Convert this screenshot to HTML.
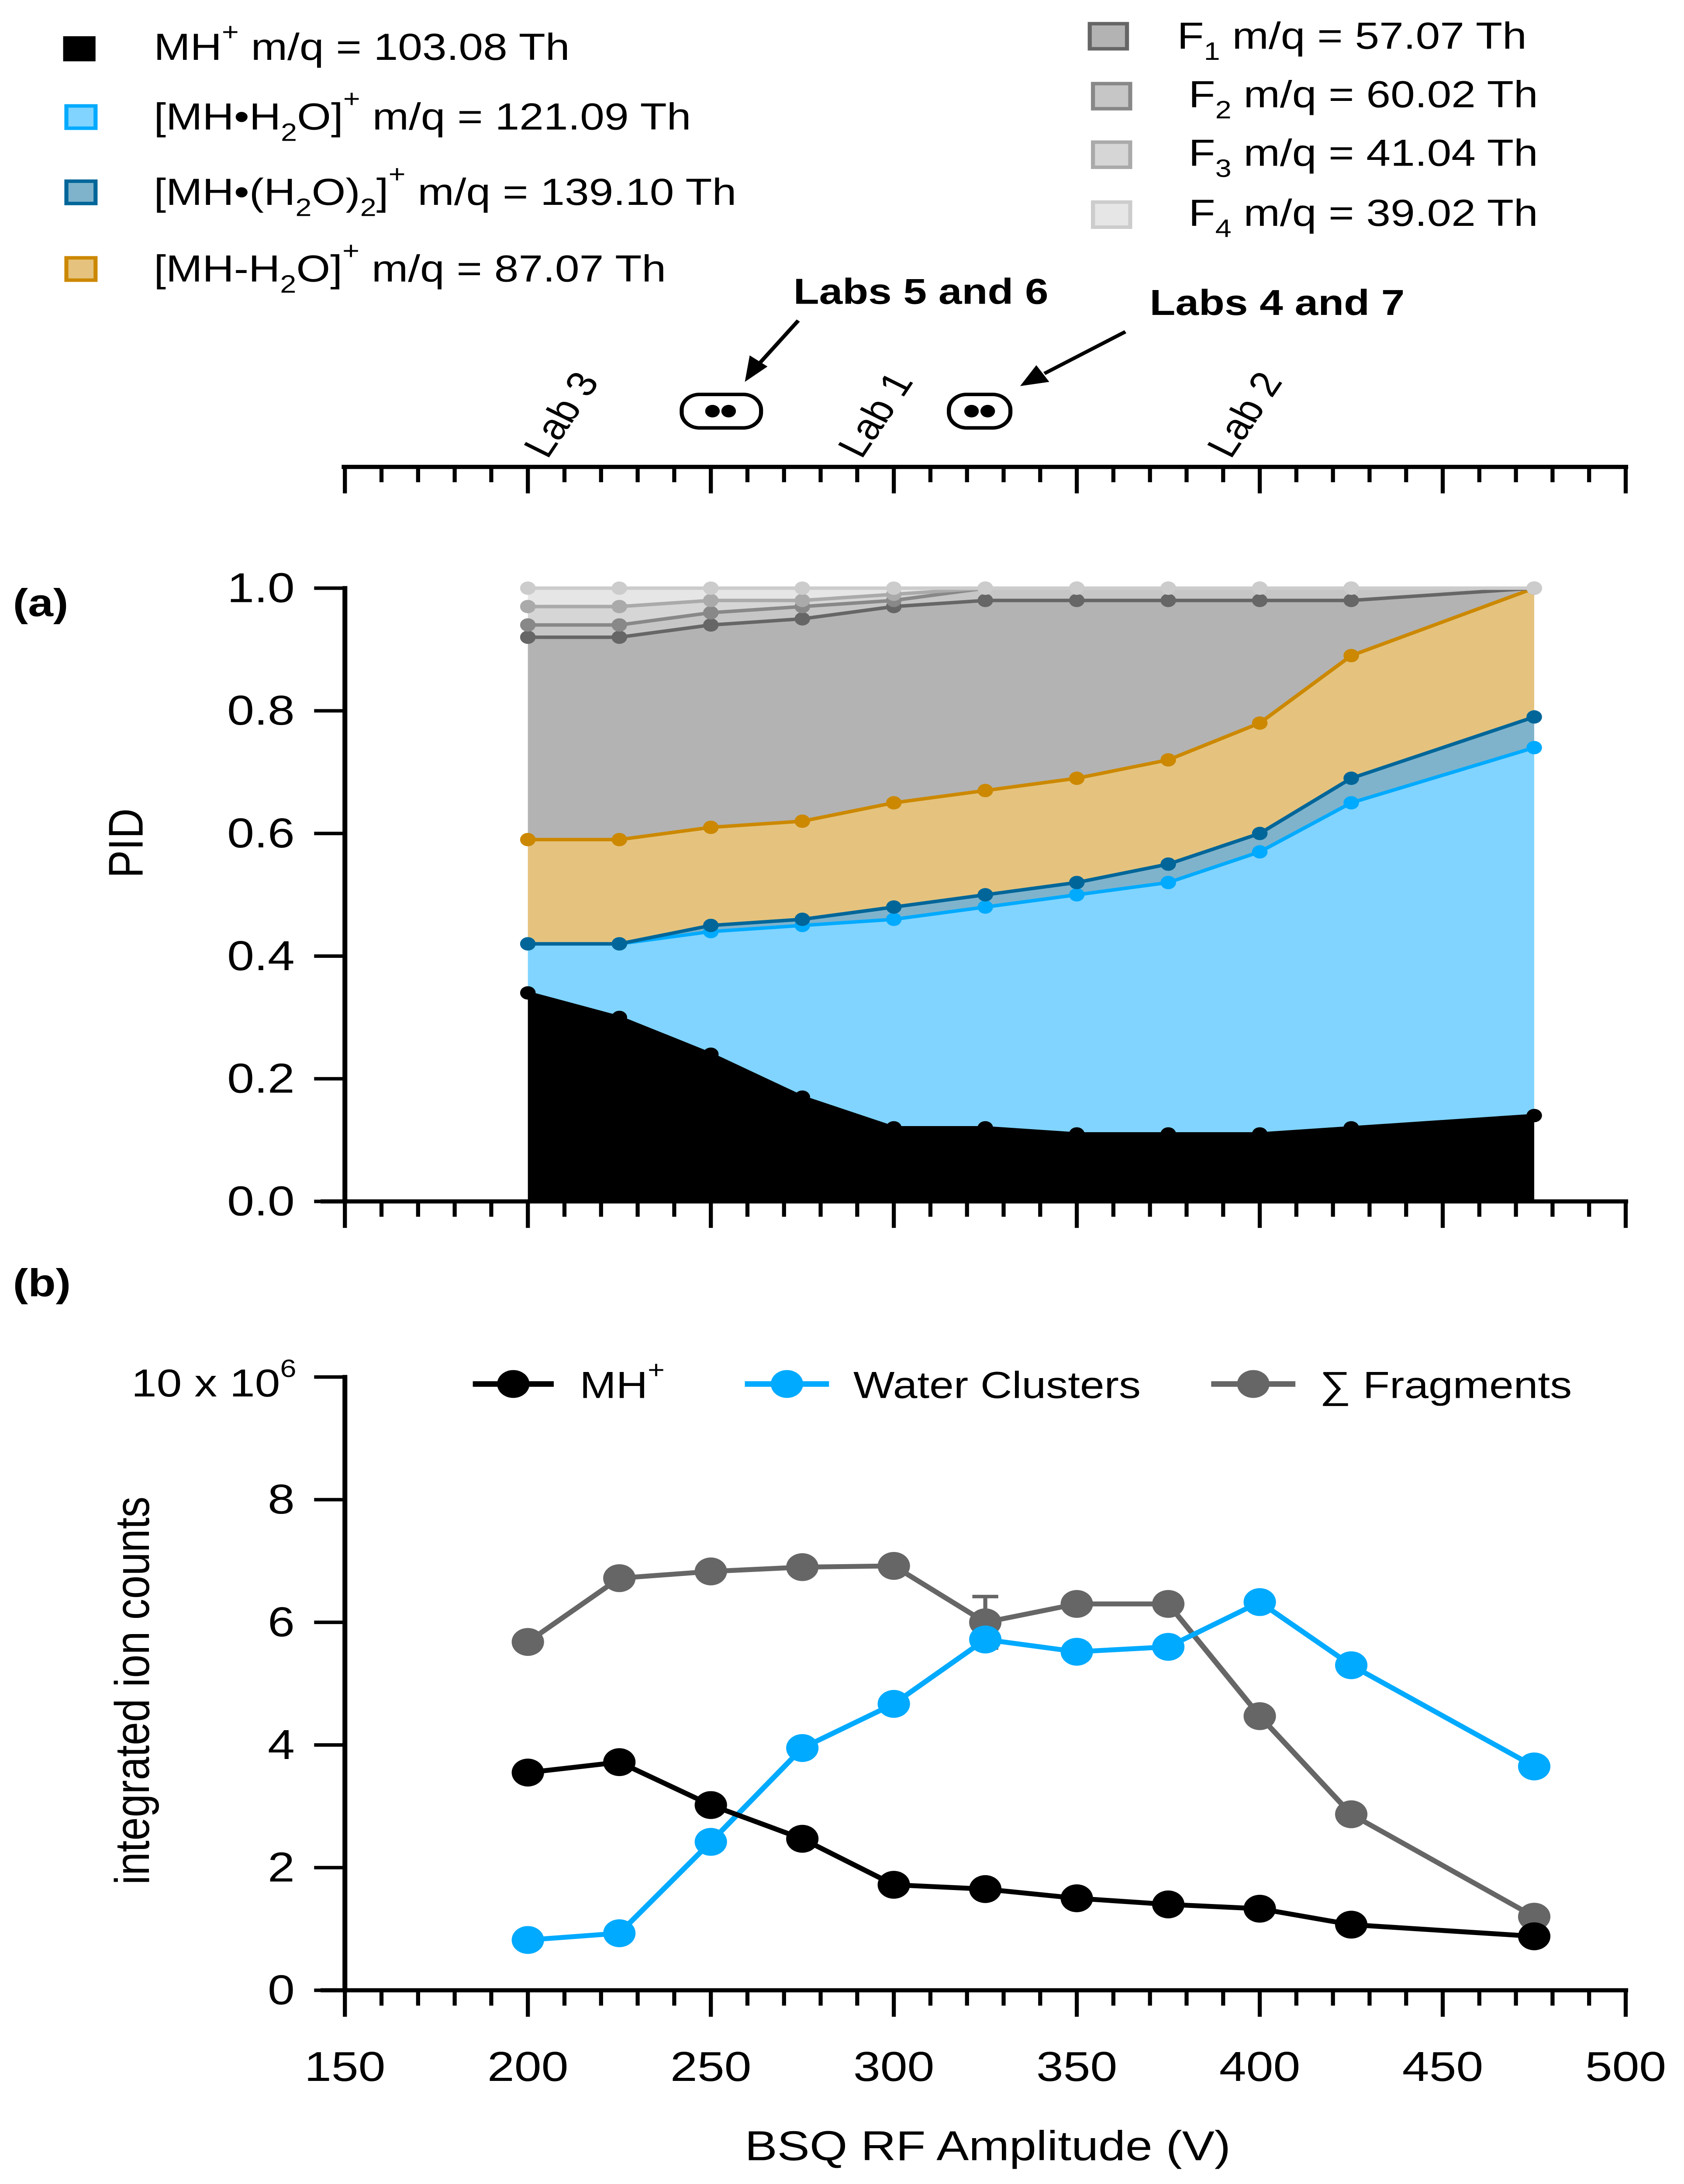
<!DOCTYPE html>
<html><head><meta charset="utf-8"><style>
html,body{margin:0;padding:0;background:#fff;width:100vw;height:100vh;overflow:hidden}
svg{display:block;position:absolute;left:0;top:0;width:100vw;height:100vh}
text{font-family:"Liberation Sans",Arial,sans-serif;fill:#000}
</style></head><body>
<svg id="fig" viewBox="0 0 1040 1567" preserveAspectRatio="none" xmlns="http://www.w3.org/2000/svg">
<g id="legendA" font-size="27">
  <rect x="40" y="27" width="18" height="16" fill="#000" stroke="#000" stroke-width="2"/>
  <text x="95" y="43">MH<tspan dy="-14" font-size="18">+</tspan><tspan dy="14"> m/q = 103.08 Th</tspan></text>
  <rect x="41" y="76" width="18" height="16" fill="#80d4ff" stroke="#00aaff" stroke-width="2.5"/>
  <text x="95" y="93">[MH•H<tspan dy="8" font-size="18">2</tspan><tspan dy="-8">O]</tspan><tspan dy="-16" font-size="18">+</tspan><tspan dy="16"> m/q = 121.09 Th</tspan></text>
  <rect x="41" y="130" width="18" height="16" fill="#7fb3cc" stroke="#006699" stroke-width="2.5"/>
  <text x="95" y="147">[MH•(H<tspan dy="8" font-size="18">2</tspan><tspan dy="-8">O)</tspan><tspan dy="8" font-size="18">2</tspan><tspan dy="-8">]</tspan><tspan dy="-16" font-size="18">+</tspan><tspan dy="16"> m/q = 139.10 Th</tspan></text>
  <rect x="41" y="185" width="18" height="16" fill="#e5c37e" stroke="#cc8800" stroke-width="2.5"/>
  <text x="95" y="202">[MH-H<tspan dy="8" font-size="18">2</tspan><tspan dy="-8">O]</tspan><tspan dy="-16" font-size="18">+</tspan><tspan dy="16"> m/q = 87.07 Th</tspan></text>
  <rect x="673" y="17" width="23" height="18" fill="#b3b3b3" stroke="#666" stroke-width="2.5"/>
  <text x="727" y="35">F<tspan dy="8" font-size="18">1</tspan><tspan dy="-8"> m/q = 57.07 Th</tspan></text>
  <rect x="675" y="60" width="23" height="18" fill="#c6c6c6" stroke="#888" stroke-width="2.5"/>
  <text x="734" y="77">F<tspan dy="8" font-size="18">2</tspan><tspan dy="-8"> m/q = 60.02 Th</tspan></text>
  <rect x="675" y="102" width="23" height="18" fill="#d6d6d6" stroke="#aaa" stroke-width="2.5"/>
  <text x="734" y="119">F<tspan dy="8" font-size="18">3</tspan><tspan dy="-8"> m/q = 41.04 Th</tspan></text>
  <rect x="675" y="145" width="23" height="18" fill="#e6e6e6" stroke="#ccc" stroke-width="2.5"/>
  <text x="734" y="162">F<tspan dy="8" font-size="18">4</tspan><tspan dy="-8"> m/q = 39.02 Th</tspan></text>
</g>
<g id="labs" font-size="26">
  <text x="490" y="218" font-weight="bold">Labs 5 and 6</text>
  <text x="710" y="226" font-weight="bold">Labs 4 and 7</text>
  <line x1="493" y1="230" x2="468" y2="262" stroke="#000" stroke-width="2.5"/>
  <polygon points="460,274 463,255 474,263" fill="#000"/>
  <line x1="695" y1="238" x2="645" y2="268" stroke="#000" stroke-width="2.5"/>
  <polygon points="630,277 640,262 648,274" fill="#000"/>
  <rect x="421" y="283" width="49" height="24" rx="11" fill="#fff" stroke="#000" stroke-width="2.5"/>
  <circle cx="440" cy="295" r="4.5"/><circle cx="450" cy="295" r="4.5"/>
  <rect x="586" y="283" width="38" height="24" rx="11" fill="#fff" stroke="#000" stroke-width="2.5"/>
  <circle cx="600" cy="295" r="4.5"/><circle cx="610" cy="295" r="4.5"/>
  <text transform="translate(338,330) rotate(-60)">Lab 3</text>
  <text transform="translate(532,330) rotate(-60)">Lab 1</text>
  <text transform="translate(760,330) rotate(-60)">Lab 2</text>
</g>
<text x="8" y="442" font-size="28" font-weight="bold">(a)</text>
<text x="8" y="930" font-size="28" font-weight="bold">(b)</text>
<text transform="translate(88,605) rotate(-90)" font-size="30" text-anchor="middle">PID</text>
<text transform="translate(92,1213) rotate(-90)" font-size="30" text-anchor="middle">integrated ion counts</text>
<text x="610" y="1550" font-size="30" text-anchor="middle">BSQ RF Amplitude (V)</text>
<text x="183" y="1002" font-size="28" text-anchor="end">10 x 10<tspan dy="-14" font-size="18">6</tspan></text>
<g id="legendB" font-size="27">
  <line x1="292" y1="993" x2="342" y2="993" stroke="#000" stroke-width="4"/>
  <circle cx="317" cy="993" r="10" fill="#000"/>
  <text x="358" y="1003">MH<tspan dy="-14" font-size="18">+</tspan></text>
  <line x1="460" y1="993" x2="512" y2="993" stroke="#00aaff" stroke-width="4"/>
  <circle cx="486" cy="993" r="10" fill="#00aaff"/>
  <text x="527" y="1003">Water Clusters</text>
  <line x1="748" y1="993" x2="800" y2="993" stroke="#666" stroke-width="4"/>
  <circle cx="774" cy="993" r="10" fill="#666"/>
  <text x="815" y="1003">∑ Fragments</text>
</g>
<g id="plots"></g>
</svg>
<script>
const voltages=[200,225,250,275,300,325,350,375,400,425,475];
// Panel (a): cumulative PID boundaries
const cumMH=[0.34,0.30,0.24,0.17,0.12,0.12,0.11,0.11,0.11,0.12,0.14];
const cumH2O=[0.42,0.42,0.44,0.45,0.46,0.48,0.50,0.52,0.57,0.65,0.74];
const cumH2O2=[0.42,0.42,0.45,0.46,0.48,0.50,0.52,0.55,0.60,0.69,0.79];
const cumLoss=[0.59,0.59,0.61,0.62,0.65,0.67,0.69,0.72,0.78,0.89,1.00];
const cumF1=[0.92,0.92,0.94,0.95,0.97,0.98,0.98,0.98,0.98,0.98,1.00];
const cumF2=[0.94,0.94,0.96,0.97,0.98,1.00,1.00,1.00,1.00,1.00,1.00];
const cumF3=[0.97,0.97,0.98,0.98,0.99,1.00,1.00,1.00,1.00,1.00,1.00];
const cumF4=[1.00,1.00,1.00,1.00,1.00,1.00,1.00,1.00,1.00,1.00,1.00];
const pidTicks=["0.0","0.2","0.4","0.6","0.8","1.0"];
// Panel (b): ion counts (x10^6)
const countsMH=[3.55,3.72,3.02,2.47,1.72,1.65,1.50,1.40,1.33,1.07,0.88];
const countsWater=[0.82,0.93,2.42,3.95,4.67,5.72,5.52,5.60,6.33,5.30,3.65];
const countsFrag=[5.68,6.72,6.83,6.90,6.92,6.00,6.30,6.30,4.47,2.87,1.20];
const errFrag=[0.1,0.1,0.1,0.1,0.1,0.42,0.1,0.1,0.1,0.1,0.05];
const countTicks=["0","2","4","6","8"];
const xTicks=["150","200","250","300","350","400","450","500"];

const NS="http://www.w3.org/2000/svg";
const g=document.getElementById('plots');
const X=v=>213+(v-150)*(1004-213)/350;
const YA=v=>862-v*440;
const YB=v=>1428-v*44;
function mk(tag,attrs,parent){const e=document.createElementNS(NS,tag);for(const k in attrs)e.setAttribute(k,attrs[k]);(parent||g).appendChild(e);return e;}

const layers=[
 {d:cumF4,lo:cumF3,fill:'#e6e6e6',line:'#cccccc',n:'f4'},
 {d:cumF3,lo:cumF2,fill:'#d6d6d6',line:'#aaaaaa',n:'f3'},
 {d:cumF2,lo:cumF1,fill:'#c6c6c6',line:'#888888',n:'f2'},
 {d:cumF1,lo:cumLoss,fill:'#b3b3b3',line:'#666666',n:'f1'},
 {d:cumLoss,lo:cumH2O2,fill:'#e5c37e',line:'#cc8800',n:'mh-minus-h2o'},
 {d:cumH2O2,lo:cumH2O,fill:'#7fb3cc',line:'#006699',n:'mh-h2o2'},
 {d:cumH2O,lo:cumMH,fill:'#80d4ff',line:'#00aaff',n:'mh-h2o'},
 {d:cumMH,lo:null,fill:'#000000',line:'#000000',n:'mh'}
];
layers.forEach(L=>{
  let p=voltages.map((v,i)=>X(v)+','+YA(L.d[i]));
  let q=voltages.map((v,i)=>X(v)+','+YA(L.lo?L.lo[i]:0)).reverse();
  const a=mk('polygon',{points:p.concat(q).join(' '),fill:L.fill});
  
  
});
layers.slice().reverse().forEach(L=>{
  const l=mk('polyline',{points:voltages.map((v,i)=>X(v)+','+YA(L.d[i])).join(' '),fill:'none',stroke:L.line,'stroke-width':2.5});
  
  
  voltages.forEach((v,i)=>{
    const c=mk('circle',{cx:X(v),cy:YA(L.d[i]),r:4.8,fill:L.line});
    
    
  });
});

function axisX(y,up,name){
  const ax=mk('g',{});
  
  
  mk('line',{x1:up?211:198,y1:y,x2:1005.5,y2:y,stroke:'#000','stroke-width':3},ax);
  for(let v=150;v<=500;v+=10){
    const len=(v%50===0)?19:11;
    mk('line',{x1:X(v),y1:y,x2:X(v),y2:y+len,stroke:'#000','stroke-width':2.5},ax);
  }
}
axisX(335,true,'top-axis');
axisX(862,false,'x-axis-a');
axisX(1428,false,'x-axis-b');
xTicks.forEach((t,i)=>{
  const tx=mk('text',{x:X(+t),y:1493,'font-size':30,'text-anchor':'middle'});
  tx.textContent=t;
  
  
});
function axisY(Y,ticks,step,name,labX){
  const ax=mk('g',{});
  
  
  mk('line',{x1:213,y1:Y(0)+1.5,x2:213,y2:Y(step*(ticks.length-1)+(name==='y-axis-b'?step:0))-1.5,stroke:'#000','stroke-width':3},ax);
  const n=ticks.length+(name==='y-axis-b'?1:0);
  for(let i=0;i<n;i++){
    mk('line',{x1:194,y1:Y(i*step),x2:213,y2:Y(i*step),stroke:'#000','stroke-width':2.5},ax);
  }
  ticks.forEach((t,i)=>{
    const tx=mk('text',{x:labX,y:Y(i*step)+10,'font-size':30,'text-anchor':'end'},ax);
    tx.textContent=t;
    
    
  });
}
axisY(YA,pidTicks,0.2,'y-axis-a',182);
axisY(YB,countTicks,2,'y-axis-b',182);

[[countsFrag,'#666666','fragments'],[countsWater,'#00aaff','water-clusters'],[countsMH,'#000000','mh']].forEach(([d,c,n])=>{
  const l=mk('polyline',{points:voltages.map((v,i)=>X(v)+','+YB(d[i])).join(' '),fill:'none',stroke:c,'stroke-width':3.5});
  
  
  voltages.forEach((v,i)=>{
    if(n==='fragments'){
      const e=mk('path',{d:`M${X(v)-8},${YB(d[i]+errFrag[i])}h16M${X(v)},${YB(d[i]+errFrag[i])}V${YB(d[i]-errFrag[i])}M${X(v)-8},${YB(d[i]-errFrag[i])}h16`,stroke:c,'stroke-width':2.5,fill:'none'});
      
      
    }
    const p=mk('circle',{cx:X(v),cy:YB(d[i]),r:10,fill:c});
    
    
  });
});
</script>
</body></html>
